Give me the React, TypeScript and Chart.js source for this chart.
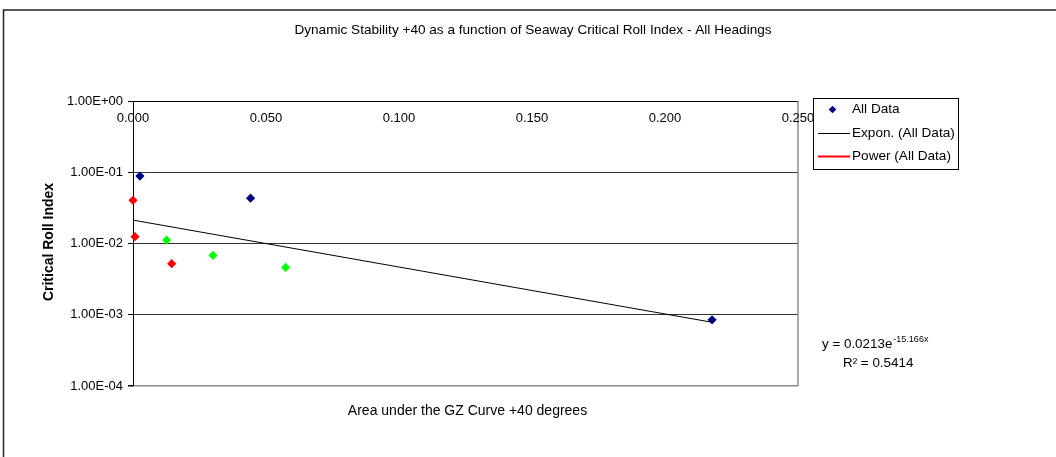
import { useEffect, useRef } from "react";
import { Chart, registerables } from "chart.js";

Chart.register(...registerables);

// Text
const chartTitle =
  "Dynamic Stability +40 as a function of Seaway Critical Roll Index - All Headings";
const xAxisTitle = "Area under the GZ Curve +40 degrees";
const yAxisTitle = "Critical Roll Index";
const legendLabels = ["All Data", "Expon. (All Data)", "Power (All Data)"];

// "All Data" series (navy diamonds)
const allDataX = [0.0026, 0.0442, 0.2177];
const allDataY = [0.0883, 0.0433, 0.00085];

// Red diamonds
const redX = [0.0, 0.00075, 0.01455];
const redY = [0.0403, 0.01245, 0.00521];

// Green diamonds
const greenX = [0.01267, 0.0301, 0.0574];
const greenY = [0.01116, 0.00681, 0.00462];

// Axis ticks
const xTicks = [0, 0.05, 0.1, 0.15, 0.2, 0.25];
const xTickLabels = ["0.000", "0.050", "0.100", "0.150", "0.200", "0.250"];
const yTicks = [1e-4, 1e-3, 1e-2, 1e-1, 1];
const yTickLabels = ["1.00E-04", "1.00E-03", "1.00E-02", "1.00E-01", "1.00E+00"];

// Exponential trendline y = a * e^(b x)
const expCoefA = 0.0213;
const expCoefB = -15.166;
const rSquared = "0.5414";

const FONT = "'Liberation Sans', Arial, sans-serif";
const NAVY = "#000080";
const RED = "#FF0000";
const GREEN = "#00FF00";

const toPoints = (xs: number[], ys: number[]) => xs.map((x, i) => ({ x, y: ys[i] }));

const trendStartX = 0;
const trendEndX = Math.max(...allDataX);
const trendPoints = [
  { x: trendStartX, y: expCoefA * Math.exp(expCoefB * trendStartX) },
  { x: trendEndX, y: expCoefA * Math.exp(expCoefB * trendEndX) },
];

function drawDiamond(ctx: CanvasRenderingContext2D, x: number, y: number, r: number, color: string) {
  ctx.beginPath();
  ctx.moveTo(x, y - r);
  ctx.lineTo(x + r, y);
  ctx.lineTo(x, y + r);
  ctx.lineTo(x - r, y);
  ctx.closePath();
  ctx.fillStyle = color;
  ctx.fill();
}

const decorations = {
  id: "decorations",
  beforeDraw(chart: any) {
    const ctx: CanvasRenderingContext2D = chart.ctx;
    ctx.save();
    ctx.fillStyle = "#FFFFFF";
    ctx.fillRect(0, 0, chart.width, chart.height);
    // outer frame (top and left edges)
    ctx.strokeStyle = "#222222";
    ctx.lineWidth = 1.5;
    ctx.beginPath();
    ctx.moveTo(chart.width, 10);
    ctx.lineTo(3.5, 10);
    ctx.lineTo(3.5, chart.height);
    ctx.stroke();
    ctx.restore();
  },
  afterDraw(chart: any) {
    const ctx: CanvasRenderingContext2D = chart.ctx;
    const { left, right, top, bottom } = chart.chartArea;
    const xs = chart.scales.x;
    ctx.save();

    // right edge of plot area
    ctx.strokeStyle = "#8C8C8C";
    ctx.lineWidth = 1.5;
    ctx.beginPath();
    ctx.moveTo(right, top);
    ctx.lineTo(right, bottom);
    ctx.stroke();

    // x tick labels sit just below the top axis line
    ctx.fillStyle = "#000";
    ctx.font = `13px ${FONT}`;
    ctx.textAlign = "center";
    ctx.textBaseline = "middle";
    xTicks.forEach((v, i) => {
      ctx.fillText(xTickLabels[i], xs.getPixelForValue(v), top + 17.5);
    });

    // title
    ctx.font = `13.6px ${FONT}`;
    ctx.fillText(chartTitle, 533, 30);

    // x axis title
    ctx.font = `14px ${FONT}`;
    ctx.fillText(xAxisTitle, (left + right) / 2 + 2, 411);

    // y axis title
    ctx.save();
    ctx.translate(49, 242);
    ctx.rotate(-Math.PI / 2);
    ctx.font = `bold 14px ${FONT}`;
    ctx.fillText(yAxisTitle, 0, 0);
    ctx.restore();

    // legend
    const lx = 813, ly = 98, lw = 145, lh = 71;
    ctx.fillStyle = "#FFFFFF";
    ctx.fillRect(lx, ly, lw, lh);
    ctx.strokeStyle = "#000";
    ctx.lineWidth = 1;
    ctx.strokeRect(lx + 0.5, ly + 0.5, lw, lh);
    const rows = [109.5, 133.5, 156.5];
    drawDiamond(ctx, 832.5, rows[0], 3.8, NAVY);
    ctx.lineWidth = 1;
    ctx.strokeStyle = "#000";
    ctx.beginPath();
    ctx.moveTo(818, rows[1]);
    ctx.lineTo(850, rows[1]);
    ctx.stroke();
    ctx.strokeStyle = RED;
    ctx.lineWidth = 2;
    ctx.beginPath();
    ctx.moveTo(818, rows[2]);
    ctx.lineTo(850, rows[2]);
    ctx.stroke();
    ctx.fillStyle = "#000";
    ctx.font = `13.6px ${FONT}`;
    ctx.textAlign = "left";
    legendLabels.forEach((t, i) => ctx.fillText(t, 852, rows[i]));

    // trendline equation
    const eqMain = `y = ${expCoefA}e`;
    ctx.font = `13.4px ${FONT}`;
    ctx.textBaseline = "alphabetic";
    const eqX = 822;
    ctx.fillText(eqMain, eqX, 348);
    const w = ctx.measureText(eqMain).width;
    ctx.font = `9px ${FONT}`;
    ctx.fillText(`${expCoefB}x`, eqX + w + 1, 342);
    ctx.font = `13.4px ${FONT}`;
    ctx.fillText(`R\u00B2 = ${rSquared}`, 843, 367);

    ctx.restore();
  },
};

export default function App() {
  const canvasRef = useRef<HTMLCanvasElement | null>(null);

  useEffect(() => {
    document.body.style.margin = "0";
    const canvas = canvasRef.current;
    if (!canvas) return;

    const scatterDefaults = {
      type: "scatter" as const,
      pointStyle: "rectRot" as const,
      pointRadius: 4.6,
      pointHoverRadius: 4.6,
      borderWidth: 0,
      clip: false as const,
      showLine: false,
    };

    const chart = new Chart(canvas, {
      type: "scatter",
      data: {
        datasets: [
          {
            type: "line",
            label: legendLabels[1],
            data: trendPoints,
            borderColor: "#000",
            borderWidth: 1,
            pointRadius: 0,
            fill: false,
            tension: 0,
          } as any,
          {
            ...scatterDefaults,
            label: legendLabels[0],
            data: toPoints(allDataX, allDataY),
            backgroundColor: NAVY,
            borderColor: NAVY,
          },
          {
            ...scatterDefaults,
            label: "red",
            data: toPoints(redX, redY),
            backgroundColor: RED,
            borderColor: RED,
          },
          {
            ...scatterDefaults,
            label: "green",
            data: toPoints(greenX, greenY),
            backgroundColor: GREEN,
            borderColor: GREEN,
          },
        ],
      },
      options: {
        animation: false,
        responsive: false,
        maintainAspectRatio: false,
        devicePixelRatio: 1,
        events: [],
        layout: { padding: { left: 8, top: 101, right: 258, bottom: 71 } },
        plugins: {
          legend: { display: false },
          title: { display: false },
          tooltip: { enabled: false },
        },
        scales: {
          x: {
            type: "linear",
            position: "top",
            min: 0,
            max: 0.25,
            grid: { display: false },
            border: { display: true, color: "#000", width: 1 },
            ticks: { display: false },
            afterFit: (scale: any) => {
              scale.height = 0;
            },
          },
          y: {
            type: "logarithmic",
            position: "left",
            min: 1e-4,
            max: 1,
            afterBuildTicks: (scale: any) => {
              scale.ticks = yTicks.map((v) => ({ value: v }));
            },
            afterFit: (scale: any) => {
              scale.width = 125;
            },
            ticks: {
              padding: 5,
              color: "#000",
              font: { family: FONT, size: 13 },
              callback: (value: any) => {
                const i = yTicks.findIndex((t) => Math.abs(t - Number(value)) < t * 1e-6);
                return i >= 0 ? yTickLabels[i] : "";
              },
            },
            grid: {
              color: (c: any) => (c.tick && c.tick.value === 1e-4 ? "#8C8C8C" : "#333333"),
              lineWidth: (c: any) => (c.tick && c.tick.value === 1e-4 ? 1.5 : 1),
              tickLength: 5,
              tickColor: "#000",
              drawTicks: true,
            },
            border: { display: true, color: "#000", width: 1 },
          },
        },
      },
      plugins: [decorations],
    });

    return () => chart.destroy();
  }, []);

  return (
    <div style={{ position: "absolute", left: 0, top: 0, width: 1056, height: 457 }}>
      <canvas ref={canvasRef} width={1056} height={457} />
    </div>
  );
}
